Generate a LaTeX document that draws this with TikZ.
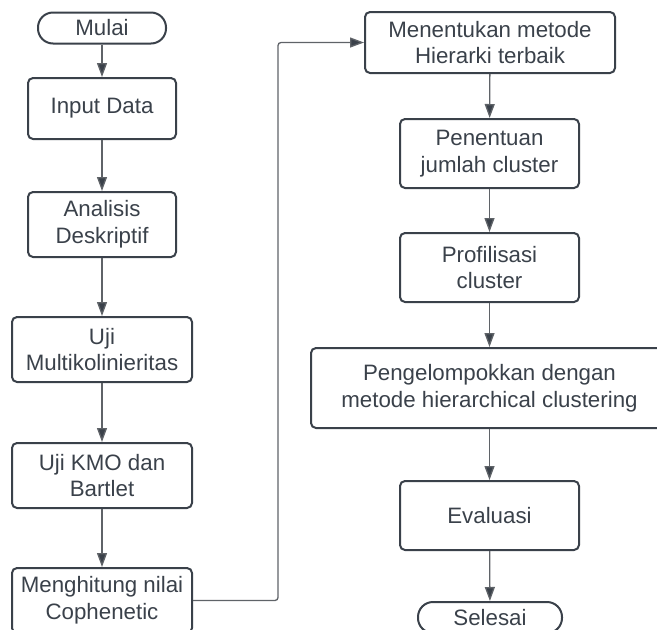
\documentclass[tikz,border=0pt]{standalone}
\usepackage{fontspec}
\setmainfont{Liberation Sans}
\usetikzlibrary{arrows.meta}

\definecolor{garis}{RGB}{58,65,74}
\definecolor{panahabu}{RGB}{95,99,104}

\tikzset{
    kotak/.style 2 args={draw=garis, line width=2pt, rounded corners=5pt,
        minimum width=#1, minimum height=#2, inner sep=0pt, align=center,
        text=garis, font=\fontsize{22.3}{26.7}\selectfont},
    terminal/.style 2 args={kotak={#1}{#2}, rounded corners=15pt},
    panah/.style={draw=panahabu, line width=1.3pt,
        -{Triangle[length=14pt,width=10pt,fill=garis]}},
}

\begin{document}
\begin{tikzpicture}[x=1pt, y=-1pt]
            \useasboundingbox (0,0) rectangle (657,630);
            \clip (0,0) rectangle (657,630);

            \node[terminal={128pt}{31pt}] (mulai) at (102,28) {Mulai};
            \node[kotak={148pt}{61pt}] (input) at (102,108.5) {Input Data};
            \node[kotak={148pt}{65pt}] (deskriptif) at (102,224.5) {Analisis\\Deskriptif};
            \node[kotak={180pt}{65pt}] (multiko) at (102,349.5) {Uji\\Multikolinieritas};
            \node[kotak={180pt}{65pt}] (kmo) at (102,475.5) {Uji KMO dan\\Bartlet};
            \node[kotak={180pt}{65pt}] (cophenetic) at (102,600.5) {Menghitung nilai\\Cophenetic};

            \node[kotak={250pt}{61pt}] (metode) at (490,42.5) {Menentukan metode\\Hierarki terbaik};
            \node[kotak={179pt}{69pt}] (jumlah) at (489.5,153.5) {Penentuan\\jumlah cluster};
            \node[kotak={179pt}{69pt}] (profil) at (489.5,267.5) {Profilisasi\\cluster};
            \node[kotak={357pt}{80pt}] (kelompok) at (489.5,388) {Pengelompokkan dengan\\metode hierarchical clustering};
            \node[kotak={179pt}{69pt}] (evaluasi) at (489.5,515.5) {Evaluasi};
            \node[terminal={144pt}{31pt}] (selesai) at (490,617.5) {Selesai};

            \coordinate (belok) at (278,42.5);

            \draw[panah] (mulai) -- (input);
            \draw[panah] (input) -- (deskriptif);
            \draw[panah] (deskriptif) -- (multiko);
            \draw[panah] (multiko) -- (kmo);
            \draw[panah] (kmo) -- (cophenetic);
            \draw[panah, rounded corners=3pt] (cophenetic.east) -| (belok) -- (metode.west);
            \draw[panah] (metode) -- (jumlah);
            \draw[panah] (jumlah) -- (profil);
            \draw[panah] (profil) -- (kelompok);
            \draw[panah] (kelompok) -- (evaluasi);
            \draw[panah] (evaluasi) -- (selesai);
        \end{tikzpicture}
\end{document}
